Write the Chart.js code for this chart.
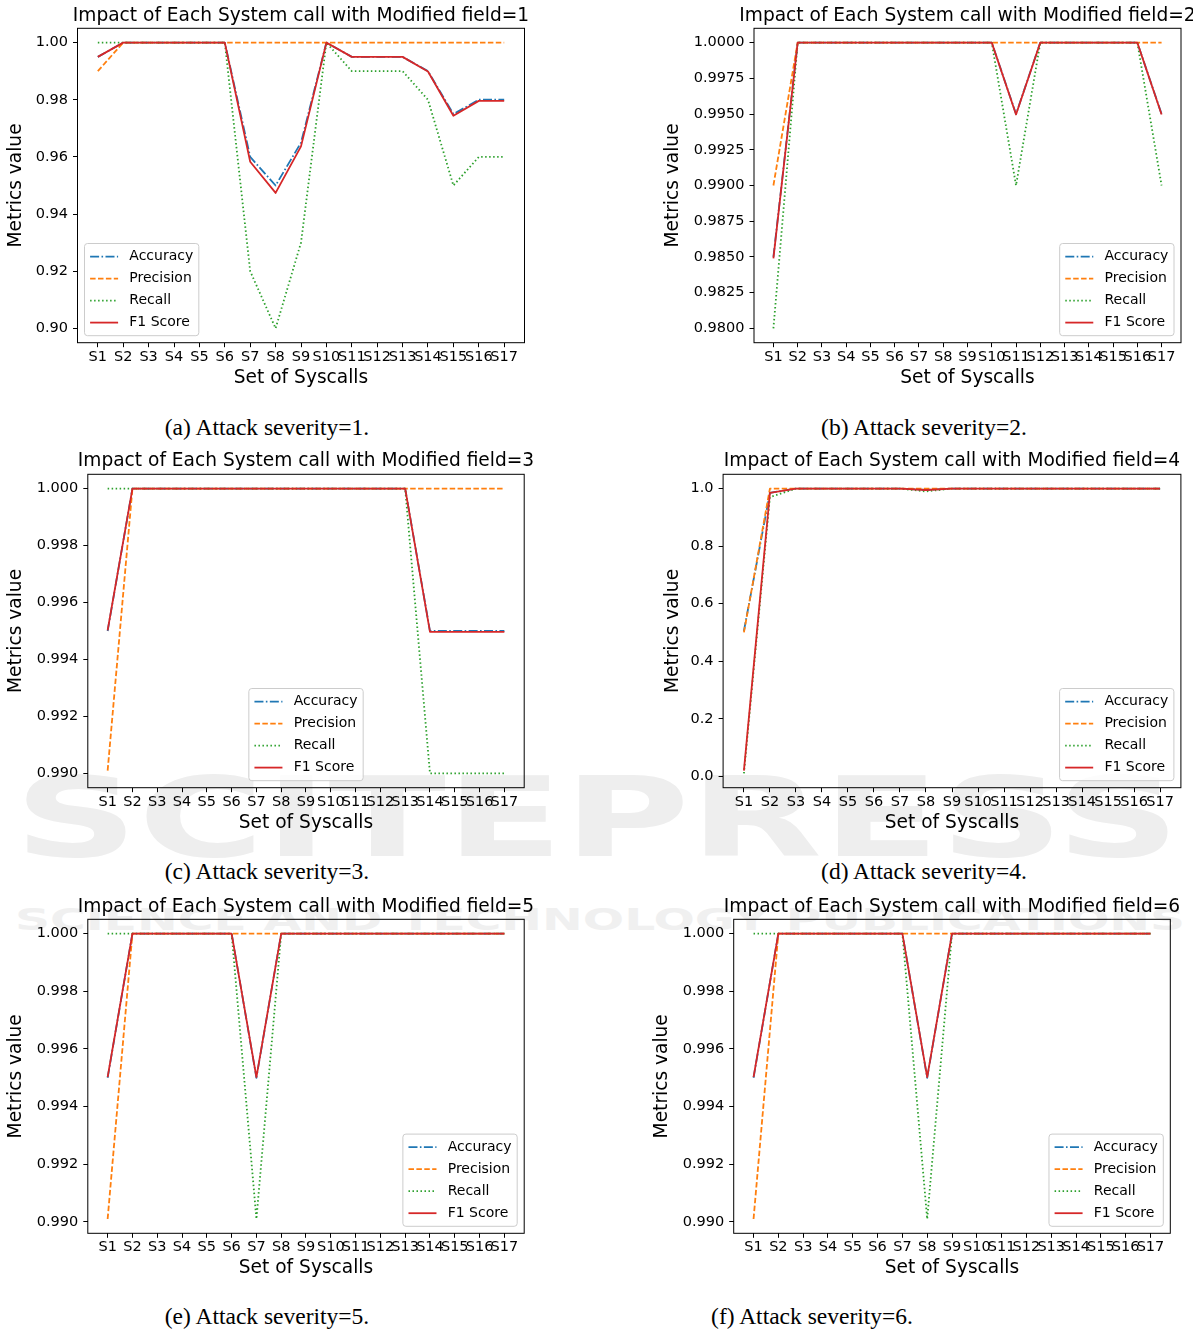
<!DOCTYPE html>
<html><head><meta charset="utf-8">
<script src="https://cdn.jsdelivr.net/npm/chart.js@4.4.1/dist/chart.umd.min.js"></script>
<style>
html,body{margin:0;padding:0;background:#fff;overflow:hidden;}
body{width:1204px;height:1334px;position:relative;}
canvas{position:absolute;}
.cap{position:absolute;width:400px;font-family:"Liberation Serif","Times New Roman",serif;font-size:23.5px;color:#000;text-align:center;white-space:nowrap;line-height:1;}
.wm{position:absolute;color:#eeeeee;white-space:nowrap;transform-origin:0 0;font-family:"DejaVu Sans";font-weight:bold;line-height:1;}
#clipR{position:absolute;left:1193px;top:0;width:11px;height:30px;background:#fff;}
</style></head><body>
<div class="wm" id="wm1" style="font-size:110px;left:14px;top:763px;">SCITEPRESS</div>
<div class="wm" id="wm2" style="font-size:30px;left:15px;top:904.5px;color:#f0f0f0;">SCIENCE AND TECHNOLOGY PUBLICATIONS</div>
<canvas id="c1"></canvas><canvas id="c2"></canvas><canvas id="c3"></canvas>
<canvas id="c4"></canvas><canvas id="c5"></canvas><canvas id="c6"></canvas>
<div id="clipR"></div>
<div class="cap" style="left:67px;top:415.6px;">(a) Attack severity=1.</div>
<div class="cap" style="left:724px;top:415.6px;">(b) Attack severity=2.</div>
<div class="cap" style="left:67px;top:860.1px;">(c) Attack severity=3.</div>
<div class="cap" style="left:724px;top:860.1px;">(d) Attack severity=4.</div>
<div class="cap" style="left:67px;top:1305.1px;">(e) Attack severity=5.</div>
<div class="cap" style="left:612px;top:1305.1px;">(f) Attack severity=6.</div>
<script>
// ---------------- data ----------------
const syscalls = ['S1','S2','S3','S4','S5','S6','S7','S8','S9','S10','S11','S12','S13','S14','S15','S16','S17'];
const seriesNames = ['Accuracy','Precision','Recall','F1 Score'];
const titles = [
  'Impact of Each System call with Modified field=1',
  'Impact of Each System call with Modified field=2',
  'Impact of Each System call with Modified field=3',
  'Impact of Each System call with Modified field=4',
  'Impact of Each System call with Modified field=5',
  'Impact of Each System call with Modified field=6'
];
const xAxisTitle = 'Set of Syscalls';
const yAxisTitle = 'Metrics value';

// severity 1
const acc1  = [0.995,1,1,1,1,1,0.960,0.950,0.965,1,0.995,0.995,0.995,0.990,0.975,0.980,0.980];
const prec1 = [0.990,1,1,1,1,1,1,1,1,1,1,1,1,1,1,1,1];
const rec1  = [1,1,1,1,1,1,0.92,0.90,0.93,1,0.99,0.99,0.99,0.98,0.95,0.96,0.96];
const f1s1  = [0.995,1,1,1,1,1,0.9583,0.9474,0.9637,1,0.995,0.995,0.995,0.9899,0.9744,0.9796,0.9796];
// severity 2
const acc2  = [0.985,1,1,1,1,1,1,1,1,1,0.995,1,1,1,1,1,0.995];
const prec2 = [0.990,1,1,1,1,1,1,1,1,1,1,1,1,1,1,1,1];
const rec2  = [0.980,1,1,1,1,1,1,1,1,1,0.990,1,1,1,1,1,0.990];
const f1s2  = [0.9849,1,1,1,1,1,1,1,1,1,0.99497,1,1,1,1,1,0.99497];
// severity 3
const acc3  = [0.995,1,1,1,1,1,1,1,1,1,1,1,1,0.995,0.995,0.995,0.995];
const prec3 = [0.9901,1,1,1,1,1,1,1,1,1,1,1,1,1,1,1,1];
const rec3  = [1,1,1,1,1,1,1,1,1,1,1,1,1,0.990,0.990,0.990,0.990];
const f1s3  = [0.99502,1,1,1,1,1,1,1,1,1,1,1,1,0.99497,0.99497,0.99497,0.99497];
// severity 4
const acc4  = [0.505,0.985,1,1,1,1,1,0.995,1,1,1,1,1,1,1,1,1];
const prec4 = [0.500,1,1,1,1,1,1,1,1,1,1,1,1,1,1,1,1];
const rec4  = [0.010,0.970,1,1,1,1,1,0.990,1,1,1,1,1,1,1,1,1];
const f1s4  = [0.0198,0.9848,1,1,1,1,1,0.995,1,1,1,1,1,1,1,1,1];
// severity 5
const acc5  = [0.995,1,1,1,1,1,0.995,1,1,1,1,1,1,1,1,1,1];
const prec5 = [0.9901,1,1,1,1,1,1,1,1,1,1,1,1,1,1,1,1];
const rec5  = [1,1,1,1,1,1,0.9901,1,1,1,1,1,1,1,1,1,1];
const f1s5  = [0.99502,1,1,1,1,1,0.99502,1,1,1,1,1,1,1,1,1,1];
// severity 6
const acc6  = [0.995,1,1,1,1,1,1,0.995,1,1,1,1,1,1,1,1,1];
const prec6 = [0.9901,1,1,1,1,1,1,1,1,1,1,1,1,1,1,1,1];
const rec6  = [1,1,1,1,1,1,1,0.9901,1,1,1,1,1,1,1,1,1];
const f1s6  = [0.99502,1,1,1,1,1,1,0.99502,1,1,1,1,1,1,1,1,1];

// y tick labels
const yTicks1 = ['0.90','0.92','0.94','0.96','0.98','1.00'];
const yTicks2 = ['0.9800','0.9825','0.9850','0.9875','0.9900','0.9925','0.9950','0.9975','1.0000'];
const yTicks3 = ['0.990','0.992','0.994','0.996','0.998','1.000'];
const yTicks4 = ['0.0','0.2','0.4','0.6','0.8','1.0'];
const yTicks5 = ['0.990','0.992','0.994','0.996','0.998','1.000'];
const yTicks6 = ['0.990','0.992','0.994','0.996','0.998','1.000'];

const seriesSets = [
  [acc1,prec1,rec1,f1s1],[acc2,prec2,rec2,f1s2],[acc3,prec3,rec3,f1s3],
  [acc4,prec4,rec4,f1s4],[acc5,prec5,rec5,f1s5],[acc6,prec6,rec6,f1s6]
];
const tickSets = [yTicks1,yTicks2,yTicks3,yTicks4,yTicks5,yTicks6];

// ---------------- layout & style ----------------
const layouts = [
  {cl:0,     ct:0,   box:[77.5,28.3,524.4,342.7],    titleY:16.5,  yTitleX:16.5,  xTitleY:377.7,  legend:'lower left'},
  {cl:657.4, ct:0,   box:[754.4,28.3,1181.5,342.7],  titleY:16.5,  yTitleX:673.9, xTitleY:377.7,  legend:'lower right'},
  {cl:0,     ct:445, box:[87.8,474.3,524.4,787.7],   titleY:461.5, yTitleX:16.5,  xTitleY:822.7,  legend:'lower center'},
  {cl:657.4, ct:445, box:[723.5,474.3,1181.5,787.7], titleY:461.5, yTitleX:673.9, xTitleY:822.7,  legend:'lower right'},
  {cl:0,     ct:890, box:[87.8,919.3,524.4,1233.3],  titleY:907.5, yTitleX:16.5,  xTitleY:1268.3, legend:'lower right'},
  {cl:645.5, ct:890, box:[733.2,919.3,1169.4,1233.3],titleY:907.5, yTitleX:662,   xTitleY:1268.3, legend:'lower right'}
];
const colors = ['#1f77b4','#ff7f0e','#2ca02c','#d62728'];
const dashes = [[9,2.4,1.6,2.4],[5.5,2.4],[1.5,2.5],[]];
const LINE_W = 1.8;
const FONT = '"DejaVu Sans", sans-serif';
const TITLE_SIZE = 18.6, LABEL_SIZE = 18.6, TICK_SIZE = 14.5, LEGEND_SIZE = 14;
const LH = 1.2;
const TICK_LEN = 4.5;

const framePlugin = {
  id:'frame',
  afterDatasetsDraw(chart){
    const a = chart.chartArea, ctx = chart.ctx;
    ctx.save();
    ctx.strokeStyle = '#000'; ctx.lineWidth = 1;
    ctx.strokeRect(a.left, a.top, a.right-a.left, a.bottom-a.top);
    ctx.restore();
  }
};
const legendPlugin = {
  id:'mplLegend',
  afterDraw(chart, args, opts){
    const ctx = chart.ctx, a = chart.chartArea;
    const fs = LEGEND_SIZE;
    ctx.save();
    ctx.font = fs + 'px ' + FONT;
    const ds = chart.data.datasets;
    let tw = 0;
    ds.forEach(d => { tw = Math.max(tw, ctx.measureText(d.label).width); });
    const bp = 0.4*fs, hl = 2*fs, htp = 0.8*fs, rowH = 15, ls = 0.5*fs;
    const w = bp + hl + htp + tw + bp;
    const h = 2*bp + ds.length*rowH + (ds.length-1)*ls;
    const pad = 0.5*fs;
    let x;
    if (opts.loc === 'lower left') x = a.left + pad;
    else if (opts.loc === 'lower right') x = a.right - pad - w;
    else x = (a.left + a.right)/2 - w/2;
    const y = a.bottom - pad - h;
    const r = 3;
    ctx.beginPath();
    ctx.moveTo(x+r,y); ctx.lineTo(x+w-r,y); ctx.arcTo(x+w,y,x+w,y+r,r);
    ctx.lineTo(x+w,y+h-r); ctx.arcTo(x+w,y+h,x+w-r,y+h,r);
    ctx.lineTo(x+r,y+h); ctx.arcTo(x,y+h,x,y+h-r,r);
    ctx.lineTo(x,y+r); ctx.arcTo(x,y,x+r,y,r); ctx.closePath();
    ctx.fillStyle = 'rgba(255,255,255,0.8)'; ctx.fill();
    ctx.strokeStyle = '#cccccc'; ctx.lineWidth = 1; ctx.stroke();
    ds.forEach((d,i) => {
      const cy = y + bp + rowH/2 + i*(rowH+ls);
      ctx.beginPath();
      ctx.setLineDash(d.borderDash || []);
      ctx.strokeStyle = d.borderColor; ctx.lineWidth = d.borderWidth;
      ctx.moveTo(x+bp, cy); ctx.lineTo(x+bp+hl, cy); ctx.stroke();
      ctx.setLineDash([]);
      ctx.fillStyle = '#000'; ctx.textBaseline = 'middle'; ctx.textAlign = 'left';
      ctx.fillText(d.label, x+bp+hl+htp, cy);
    });
    ctx.restore();
  }
};

function makeChart(k){
  const L = layouts[k];
  const [bl,bt,br,bb] = L.box;
  const leftW = bl - L.cl;
  const rightW = leftW;                 // symmetric canvas so the title centres on the axes
  const cw = (br + rightW) - L.cl;
  const ch = 400;
  const cv = document.getElementById('c'+(k+1));
  cv.width = Math.round(cw); cv.height = ch;
  cv.style.left = L.cl+'px'; cv.style.top = L.ct+'px';
  const series = seriesSets[k];
  let mn = Infinity, mx = -Infinity;
  series.forEach(s => s.forEach(v => { mn = Math.min(mn,v); mx = Math.max(mx,v); }));
  const m = 0.05*(mx-mn);
  const yTicks = tickSets[k];
  const tlh = TITLE_SIZE*LH;
  const titlePadTop = (L.titleY - L.ct) - tlh/2;
  const titlePadBottom = (bt - L.ct) - titlePadTop - tlh;
  const xScaleH = (L.ct + ch) - bb;
  const llh = LABEL_SIZE*LH;
  const xTitlePadBottom = (L.ct + ch) - L.xTitleY - llh/2;
  const yTitlePadTop = (L.yTitleX - L.cl) - llh/2;

  const datasets = series.map((s,i) => ({
    label: seriesNames[i],
    data: s.map((v,j) => ({x:j, y:v})),
    borderColor: colors[i],
    backgroundColor: colors[i],
    borderWidth: LINE_W,
    borderDash: dashes[i],
    borderCapStyle: 'butt',
    borderJoinStyle: 'round',
    pointRadius: 0,
    pointHoverRadius: 0,
    tension: 0,
    fill: false,
    order: 4 - i
  }));

  new Chart(cv, {
    type:'line',
    data:{datasets},
    options:{
      responsive:false, animation:false, devicePixelRatio:1,
      events:[],
      layout:{padding:0},
      plugins:{
        legend:{display:false},
        tooltip:{enabled:false},
        title:{display:true, text:titles[k], color:'#000',
               font:{family:FONT, size:TITLE_SIZE, weight:'normal', lineHeight:LH},
               padding:{top:titlePadTop, bottom:titlePadBottom}},
        mplLegend:{loc:L.legend}
      },
      scales:{
        x:{
          type:'linear', position:'bottom', min:-0.8, max:16.8, bounds:'data',
          afterBuildTicks:(s)=>{ s.ticks = syscalls.map((_,i)=>({value:i})); },
          afterFit:(s)=>{ s.height = xScaleH; },
          ticks:{autoSkip:false, maxRotation:0, minRotation:0, padding:1.2, color:'#000',
                 font:{family:FONT, size:TICK_SIZE, lineHeight:LH},
                 callback:(v,i)=>syscalls[i]},
          grid:{display:true, drawOnChartArea:false, drawTicks:true, tickLength:TICK_LEN, color:'#000', lineWidth:1},
          border:{display:false},
          title:{display:true, text:xAxisTitle, color:'#000',
                 font:{family:FONT, size:LABEL_SIZE, lineHeight:LH},
                 padding:{top:0, bottom:xTitlePadBottom}}
        },
        y:{
          type:'linear', position:'left', min:mn-m, max:mx+m, bounds:'data',
          afterBuildTicks:(s)=>{ s.ticks = yTicks.map(t=>({value:parseFloat(t)})); },
          afterFit:(s)=>{ s.width = leftW; },
          ticks:{padding:5, color:'#000', font:{family:FONT, size:TICK_SIZE, lineHeight:LH},
                 callback:(v,i)=>yTicks[i]},
          grid:{display:true, drawOnChartArea:false, drawTicks:true, tickLength:TICK_LEN, color:'#000', lineWidth:1},
          border:{display:false},
          title:{display:true, text:yAxisTitle, color:'#000',
                 font:{family:FONT, size:LABEL_SIZE, lineHeight:LH},
                 padding:{top:yTitlePadTop, bottom:0}}
        },
        y2:{
          type:'linear', position:'right', display:true,
          afterFit:(s)=>{ s.width = rightW; },
          ticks:{display:false}, grid:{display:false}, border:{display:false}
        }
      }
    },
    plugins:[framePlugin, legendPlugin]
  });
}
for (let k=0;k<6;k++) makeChart(k);

// stretch watermark text to its footprint
function fit(id, w){ const el=document.getElementById(id); const r=el.getBoundingClientRect(); el.style.transform='scaleX('+(w/r.width)+')'; }
fit('wm1', 1166); fit('wm2', 1170);
</script>
</body></html>
